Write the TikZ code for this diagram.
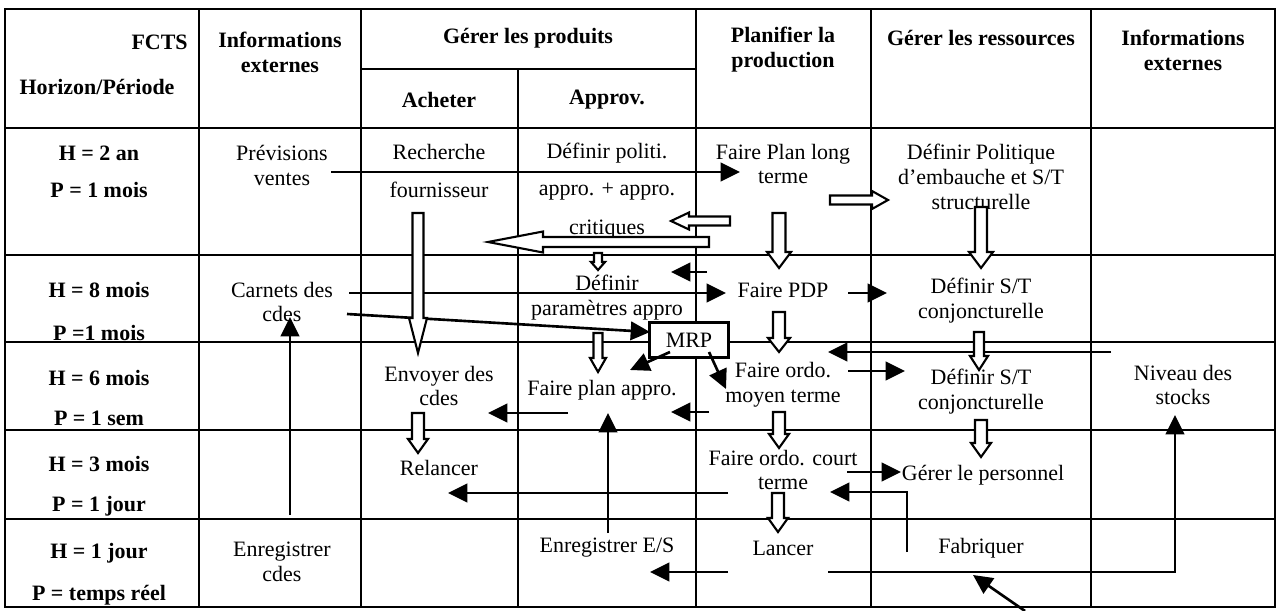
\documentclass[tikz,border=0pt]{standalone}
\usepackage{fontspec}
\setmainfont{Liberation Serif}
\usetikzlibrary{arrows.meta,calc}

% fleche creuse : depart, arrivee, demi-largeur tige, demi-largeur tete, longueur tete (px)
\newcommand{\creux}[5]{%
\coordinate (cbase) at ($(#2)!#5*0.02cm!(#1)$);
\draw[creuse] ($(#1)!#3*0.02cm!90:(#2)$) -- ($(cbase)!#3*0.02cm!90:(#2)$)
  -- ($(cbase)!#4*0.02cm!90:(#2)$) -- (#2) -- ($(cbase)!#4*0.02cm!-90:(#2)$)
  -- ($(cbase)!#3*0.02cm!-90:(#2)$) -- ($(#1)!#3*0.02cm!-90:(#2)$) -- cycle;}

\begin{document}
\begin{tikzpicture}[x=0.02cm,y=-0.02cm,
  grille/.style={line width=1.1pt},
  txt/.style={font=\fontsize{12.5}{14.2}\selectfont,align=center,inner sep=0pt},
  titre/.style={txt,font=\fontsize{12.5}{14.2}\selectfont\bfseries},
  fleche/.style={line width=1.5pt,-{Triangle[length=11pt,width=10.5pt]}},
  creuse/.style={line width=1.2pt,fill=white,line join=miter}]

\useasboundingbox (0,0) rectangle (1277,611);

% tableau
\draw[line width=1.5pt] (5,9) rectangle (1275,607);
\foreach \x in {199,361,696,871,1091}
{
\draw[grille] (\x,9) -- (\x,607);
}
\draw[grille] (518,69) -- (518,607);
\draw[grille] (361,69) -- (696,69);
\foreach \y in {128,255,342,430,519}
{
\draw[grille] (5,\y) -- (1275,\y);
}

% en-tetes
\node[titre,anchor=east] (fcts) at (188,42) {FCTS};
\node[titre] (horiz) at (97,87) {Horizon/Période};
\node[titre] (info1) at (280,52) {Informations\\externes};
\node[titre] (prod) at (528,38) {Gérer les produits};
\node[titre] (ach) at (439,100) {Acheter};
\node[titre] (appr) at (607,100) {Approv.};
\node[titre] (planif) at (783,50) {Planifier la\\production};
\node[titre] (ress) at (981,38) {Gérer les ressources};
\node[titre] (info2) at (1183,50) {Informations\\externes};

% horizons et periodes
\foreach \h/\p/\ya/\yb [count=\i] in {{H = 2 an}/{P = 1 mois}/153/190,
  {H = 8 mois}/{P =1 mois}/290/333, {H = 6 mois}/{P = 1 sem}/378/418,
  {H = 3 mois}/{P = 1 jour}/464/506, {H = 1 jour}/{P = temps réel}/553/595}
{
\node[titre] (h\i) at (99,\ya) {\h};
\node[titre] (p\i) at (99,\yb) {\p};
}

% MRP
\node[txt,draw,fill=white,line width=1.3pt,minimum width=1.58cm,minimum height=0.7cm] (mrp) at (689,340) {MRP};

% cases
\node[txt] (prev) at (282,165) {Prévisions\\ventes};
\node[txt] (rech) at (439,171) {Recherche\\[7pt]fournisseur};
\node[txt] (polit) at (607,191) {Définir politi.\\[7pt]appro. + appro.\\[8pt]critiques};
\node[txt] (planlt) at (783,164) {Faire Plan long\\terme};
\node[txt] (embau) at (981,177) {Définir Politique\\d’embauche et S/T\\structurelle};
\node[txt] (carn) at (282,302) {Carnets des\\cdes};
\node[txt] (param) at (607,298) {Définir\\paramètres appro};
\node[txt] (pdp) at (783,290) {Faire PDP};
\node[txt] (conj1) at (981,301) {Définir S/T\\conjoncturelle};
\node[txt] (env) at (439,386) {Envoyer des\\cdes};
\node[txt] (pappro) at (602,390) {Faire plan appro.};
\node[txt] (ordom) at (783,385) {Faire ordo.\\moyen terme};
\node[txt] (conj2) at (981,392) {Définir S/T\\conjoncturelle};
\node[txt] (stock) at (1183,385) {Niveau des\\stocks};
\node[txt] (relan) at (439,468) {Relancer};
\node[txt] (ordoc) at (783,470) {Faire ordo. court\\terme};
\node[txt] (perso) at (983,475) {Gérer le personnel};
\node[txt] (enrc) at (282,562) {Enregistrer\\cdes};
\node[txt] (enres) at (607,548) {Enregistrer E/S};
\node[txt] (lanc) at (783,548) {Lancer};
\node[txt] (fabr) at (981,548) {Fabriquer};

% flux d'information
\foreach \xa/\ya/\xb/\yb [count=\i] in {331/172/740/172, 707/272/671/272,
  349/293/726/293, 848/293/887/293, 347/314/650/332, 670/352/630/370,
  709/352/726/389, 1111/352/828/352, 848/371/905/371, 709/412/671/412,
  568/413/488/413, 290/515/290/317, 608/533/608/413, 728/493/448/493,
  847/472/901/472, 728/572/650/572, 1025/611/973/575}
{
\coordinate (s\i) at (\xa,\ya);
\coordinate (t\i) at (\xb,\yb);
\draw[fleche] (s\i) -- (t\i);
}
\coordinate (fab) at (907,552);
\coordinate (court) at (830,492);
\coordinate (lanc1) at (828,572);
\coordinate (niv) at (1175,415);
\draw[fleche] (fab) |- (court);
\draw[fleche] (lanc1) -| (niv);

% flux de decision
\foreach \xa/\ya/\xb/\yb/\w/\h/\l [count=\i] in {418/213/418/353/5.5/9/35,
  779/213/779/268/6.5/12/16, 981/207/981/268/6/12/16, 830/200/888/200/4.5/9/16,
  730/221/671/221/4.5/8.5/18, 709/242/488/242/5/10.5/55, 598/253/598/270/4/7/8,
  598/333/598/372/4.5/8/14, 779/312/779/352/6/11/14, 979/332/979/370/5/9/14,
  418/413/418/453/6/10/14, 779/412/779/448/6/10/14, 981/420/981/457/6/10/14,
  778/493/778/532/6/10/14}
{
\coordinate (c\i) at (\xa,\ya);
\coordinate (d\i) at (\xb,\yb);
\creux{c\i}{d\i}{\w}{\h}{\l}
}
\end{tikzpicture}
\end{document}
